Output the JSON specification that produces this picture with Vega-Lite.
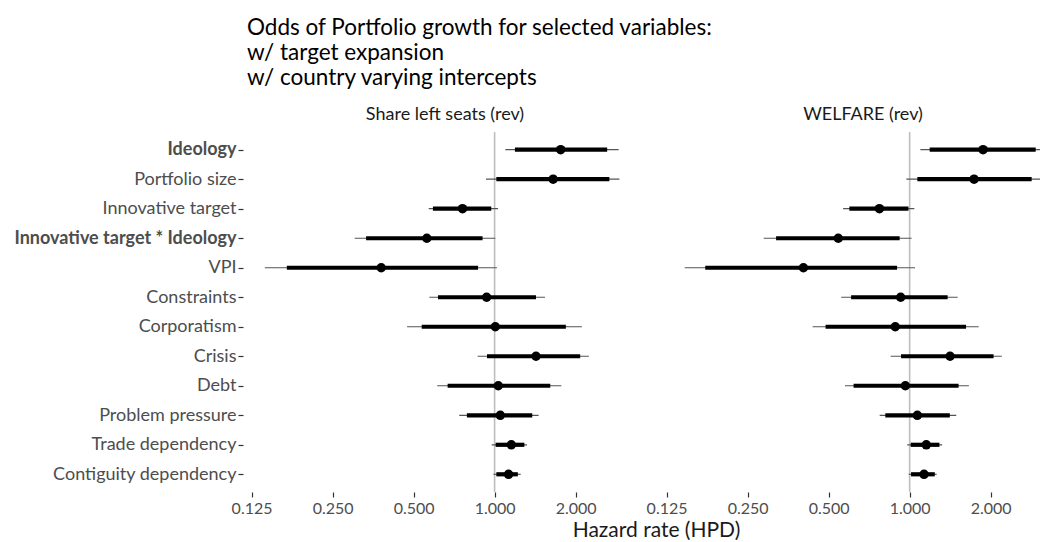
{
  "$schema": "https://vega.github.io/schema/vega-lite/v6.json",
  "background": "white",
  "padding": {"left": 13, "top": 16, "right": 0, "bottom": 0},
  "bounds": "flush",
  "config": {
    "font": "Lato",
    "view": {"stroke": null}
  },
  "spacing": 19,
  "title": {
    "text": ["Odds of Portfolio growth for selected variables:", "w/ target expansion", "w/ country varying intercepts"],
    "anchor": "start",
    "frame": "group",
    "fontSize": 22.5,
    "fontWeight": "normal",
    "lineHeight": 25,
    "color": "#000000",
    "offset": 17
  },
  "data": {
    "values": [
      {"panel": "Share left seats (rev)", "variable": "Ideology", "lo_outer": 1.096, "hi_outer": 2.89, "lo_inner": 1.19, "hi_inner": 2.62, "estimate": 1.76},
      {"panel": "Share left seats (rev)", "variable": "Portfolio size", "lo_outer": 0.929, "hi_outer": 2.91, "lo_inner": 1.015, "hi_inner": 2.67, "estimate": 1.65},
      {"panel": "Share left seats (rev)", "variable": "Innovative target", "lo_outer": 0.569, "hi_outer": 1.03, "lo_inner": 0.59, "hi_inner": 0.972, "estimate": 0.76},
      {"panel": "Share left seats (rev)", "variable": "Innovative target * Ideology", "lo_outer": 0.302, "hi_outer": 1.006, "lo_inner": 0.333, "hi_inner": 0.902, "estimate": 0.56},
      {"panel": "Share left seats (rev)", "variable": "VPI", "lo_outer": 0.14, "hi_outer": 1.02, "lo_inner": 0.169, "hi_inner": 0.868, "estimate": 0.379},
      {"panel": "Share left seats (rev)", "variable": "Constraints", "lo_outer": 0.572, "hi_outer": 1.54, "lo_inner": 0.616, "hi_inner": 1.425, "estimate": 0.934},
      {"panel": "Share left seats (rev)", "variable": "Corporatism", "lo_outer": 0.473, "hi_outer": 2.11, "lo_inner": 0.536, "hi_inner": 1.84, "estimate": 1.006},
      {"panel": "Share left seats (rev)", "variable": "Crisis", "lo_outer": 0.865, "hi_outer": 2.24, "lo_inner": 0.937, "hi_inner": 2.08, "estimate": 1.425},
      {"panel": "Share left seats (rev)", "variable": "Debt", "lo_outer": 0.612, "hi_outer": 1.77, "lo_inner": 0.669, "hi_inner": 1.61, "estimate": 1.032},
      {"panel": "Share left seats (rev)", "variable": "Problem pressure", "lo_outer": 0.739, "hi_outer": 1.457, "lo_inner": 0.789, "hi_inner": 1.38, "estimate": 1.05},
      {"panel": "Share left seats (rev)", "variable": "Trade dependency", "lo_outer": 0.975, "hi_outer": 1.32, "lo_inner": 1.009, "hi_inner": 1.29, "estimate": 1.154},
      {"panel": "Share left seats (rev)", "variable": "Contiguity dependency", "lo_outer": 0.99, "hi_outer": 1.25, "lo_inner": 1.015, "hi_inner": 1.22, "estimate": 1.127},
      {"panel": "WELFARE (rev)", "variable": "Ideology", "lo_outer": 1.096, "hi_outer": 3.2, "lo_inner": 1.187, "hi_inner": 2.94, "estimate": 1.874},
      {"panel": "WELFARE (rev)", "variable": "Portfolio size", "lo_outer": 0.972, "hi_outer": 3.15, "lo_inner": 1.068, "hi_inner": 2.84, "estimate": 1.735},
      {"panel": "WELFARE (rev)", "variable": "Innovative target", "lo_outer": 0.566, "hi_outer": 1.041, "lo_inner": 0.597, "hi_inner": 0.99, "estimate": 0.772},
      {"panel": "WELFARE (rev)", "variable": "Innovative target * Ideology", "lo_outer": 0.287, "hi_outer": 1.017, "lo_inner": 0.319, "hi_inner": 0.918, "estimate": 0.543},
      {"panel": "WELFARE (rev)", "variable": "VPI", "lo_outer": 0.146, "hi_outer": 1.047, "lo_inner": 0.174, "hi_inner": 0.898, "estimate": 0.403},
      {"panel": "WELFARE (rev)", "variable": "Constraints", "lo_outer": 0.557, "hi_outer": 1.508, "lo_inner": 0.606, "hi_inner": 1.384, "estimate": 0.926},
      {"panel": "WELFARE (rev)", "variable": "Corporatism", "lo_outer": 0.436, "hi_outer": 1.805, "lo_inner": 0.487, "hi_inner": 1.62, "estimate": 0.884},
      {"panel": "WELFARE (rev)", "variable": "Crisis", "lo_outer": 0.85, "hi_outer": 2.2, "lo_inner": 0.929, "hi_inner": 2.05, "estimate": 1.413},
      {"panel": "WELFARE (rev)", "variable": "Debt", "lo_outer": 0.575, "hi_outer": 1.66, "lo_inner": 0.619, "hi_inner": 1.52, "estimate": 0.964},
      {"panel": "WELFARE (rev)", "variable": "Problem pressure", "lo_outer": 0.774, "hi_outer": 1.49, "lo_inner": 0.812, "hi_inner": 1.41, "estimate": 1.068},
      {"panel": "WELFARE (rev)", "variable": "Trade dependency", "lo_outer": 0.98, "hi_outer": 1.32, "lo_inner": 1.009, "hi_inner": 1.29, "estimate": 1.153},
      {"panel": "WELFARE (rev)", "variable": "Contiguity dependency", "lo_outer": 0.992, "hi_outer": 1.26, "lo_inner": 1.012, "hi_inner": 1.24, "estimate": 1.131}
    ]
  },
  "hconcat": [
    {
      "width": 396,
      "height": 360,
      "title": {"text": "Share left seats (rev)", "fontSize": 18, "fontWeight": "normal", "color": "#1A1A1A", "anchor": "middle", "offset": 7},
      "transform": [{"filter": "datum.panel === 'Share left seats (rev)'"}],
      "layer": [
        {
          "transform": [{"filter": "datum.variable === 'Ideology'"}],
          "mark": {"type": "rule", "color": "#BEBEBE", "strokeWidth": 1.6},
          "encoding": {
            "x": {"datum": 1, "type": "quantitative", "scale": {"type": "log", "base": 2, "domain": [0.1202, 3.56], "nice": false}}
          }
        },
        {
          "encoding": {
            "y": {
              "field": "variable", "type": "nominal",
              "sort": ["Ideology", "Portfolio size", "Innovative target", "Innovative target * Ideology", "VPI", "Constraints", "Corporatism", "Crisis", "Debt", "Problem pressure", "Trade dependency", "Contiguity dependency"],
              "scale": {"type": "point", "padding": 0.6},
              "axis": {
                "title": null,
                "domain": false,
                "grid": false,
                "labelFontSize": 18,
                "labelColor": "#4D4D4D",
                "labelLimit": 400,
                "labelPadding": 2,
                "tickSize": 5,
                "tickColor": "#333333",
                "tickWidth": 1.2,
                "offset": 4,
                "labelFontWeight": {"condition": {"test": "datum.value === 'Ideology' || datum.value === 'Innovative target * Ideology'", "value": "bold"}, "value": "normal"}
              }
            }
          },
          "layer": [
            {
              "mark": {"type": "rule", "color": "#555555", "strokeWidth": 1.2, "clip": true},
              "encoding": {
                "x": {"field": "lo_outer", "type": "quantitative"},
                "x2": {"field": "hi_outer"}
              }
            },
            {
              "mark": {"type": "rule", "color": "#000000", "strokeWidth": 4.2, "clip": true},
              "encoding": {
                "x": {"field": "lo_inner", "type": "quantitative"},
                "x2": {"field": "hi_inner"}
              }
            },
            {
              "mark": {"type": "circle", "color": "#000000", "size": 90, "opacity": 1, "clip": true},
              "encoding": {
                "x": {
                  "field": "estimate", "type": "quantitative",
                  "axis": {
                    "title": "Hazard rate (HPD)",
                    "titleFontSize": 21,
                    "titleFontWeight": "normal",
                    "titleColor": "#1A1A1A",
                    "titleX": 409,
                    "titleAlign": "center",
                    "titlePadding": 3,
                    "values": [0.125, 0.25, 0.5, 1, 2],
                    "format": ".3f",
                    "domain": false,
                    "grid": false,
                    "labelFontSize": 16,
                    "labelColor": "#4D4D4D",
                    "labelPadding": 3,
                    "tickSize": 5,
                    "tickColor": "#333333",
                    "tickWidth": 1.2
                  }
                }
              }
            }
          ]
        }
      ]
    },
    {
      "width": 378,
      "height": 360,
      "title": {"text": "WELFARE (rev)", "fontSize": 18, "fontWeight": "normal", "color": "#1A1A1A", "anchor": "middle", "offset": 7, "dx": 12},
      "transform": [{"filter": "datum.panel === 'WELFARE (rev)'"}],
      "layer": [
        {
          "transform": [{"filter": "datum.variable === 'Ideology'"}],
          "mark": {"type": "rule", "color": "#BEBEBE", "strokeWidth": 1.6},
          "encoding": {
            "x": {"datum": 1, "type": "quantitative", "scale": {"type": "log", "base": 2, "domain": [0.1202, 3.05], "nice": false}}
          }
        },
        {
          "encoding": {
            "y": {
              "field": "variable", "type": "nominal",
              "sort": ["Ideology", "Portfolio size", "Innovative target", "Innovative target * Ideology", "VPI", "Constraints", "Corporatism", "Crisis", "Debt", "Problem pressure", "Trade dependency", "Contiguity dependency"],
              "scale": {"type": "point", "padding": 0.6},
              "axis": null
            }
          },
          "layer": [
            {
              "mark": {"type": "rule", "color": "#555555", "strokeWidth": 1.2, "clip": true},
              "encoding": {
                "x": {"field": "lo_outer", "type": "quantitative"},
                "x2": {"field": "hi_outer"}
              }
            },
            {
              "mark": {"type": "rule", "color": "#000000", "strokeWidth": 4.2, "clip": true},
              "encoding": {
                "x": {"field": "lo_inner", "type": "quantitative"},
                "x2": {"field": "hi_inner"}
              }
            },
            {
              "mark": {"type": "circle", "color": "#000000", "size": 90, "opacity": 1, "clip": true},
              "encoding": {
                "x": {
                  "field": "estimate", "type": "quantitative",
                  "axis": {
                    "title": null,
                    "values": [0.125, 0.25, 0.5, 1, 2],
                    "format": ".3f",
                    "domain": false,
                    "grid": false,
                    "labelFontSize": 16,
                    "labelColor": "#4D4D4D",
                    "labelPadding": 3,
                    "tickSize": 5,
                    "tickColor": "#333333",
                    "tickWidth": 1.2
                  }
                }
              }
            }
          ]
        }
      ]
    }
  ]
}
